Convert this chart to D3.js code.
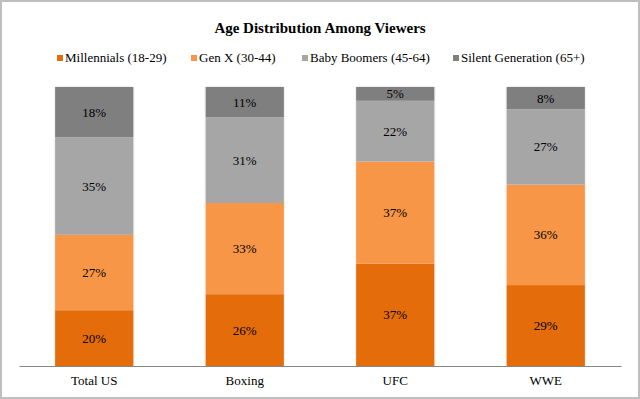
<!DOCTYPE html>
<html>
<head>
<meta charset="utf-8">
<script src="https://cdn.jsdelivr.net/npm/d3@7"></script>
<style>
  html, body { margin: 0; padding: 0; background: #fff; }
  svg { display: block; font-family: "Liberation Serif", "DejaVu Serif", serif; }
</style>
</head>
<body>
<div id="chart"></div>
<script>
const categories = ["Total US", "Boxing", "UFC", "WWE"];
const seriesNames = ["Millennials (18-29)", "Gen X (30-44)", "Baby Boomers (45-64)", "Silent Generation (65+)"];
const millennials = [20, 26, 37, 29];
const genX = [27, 33, 37, 36];
const boomers = [35, 31, 22, 27];
const silent = [18, 11, 5, 8];
const colors = ["#e46c0a", "#f79646", "#a6a6a6", "#7f7f7f"];

const width = 640, height = 399;
const margin = { top: 87, right: 19, bottom: 33, left: 19 };

const rows = categories.map((c, i) => ({
  cat: c,
  s0: millennials[i], s1: genX[i], s2: boomers[i], s3: silent[i]
}));
const keys = ["s0", "s1", "s2", "s3"];
const stacked = d3.stack().keys(keys).offset(d3.stackOffsetExpand)(rows);

const svg = d3.select("#chart").append("svg")
  .attr("width", width).attr("height", height);

// faint shadow round the bars
const defs = svg.append("defs");
defs.append("filter").attr("id", "shadow")
  .attr("x", "-10%").attr("y", "-5%").attr("width", "120%").attr("height", "110%")
  .append("feDropShadow")
  .attr("dx", 0).attr("dy", 0).attr("stdDeviation", 1)
  .attr("flood-color", "#000").attr("flood-opacity", 0.18);

svg.append("rect")
  .attr("x", 1).attr("y", 1)
  .attr("width", width - 2).attr("height", height - 2)
  .attr("fill", "#fff").attr("stroke", "#bfbfbf").attr("stroke-width", 2);

const x = d3.scaleBand().domain(categories)
  .range([margin.left, width - margin.right]).paddingInner(0.48).paddingOuter(0.24);
const y = d3.scaleLinear().domain([0, 1])
  .range([height - margin.bottom, margin.top]);

svg.append("text")
  .attr("x", width / 2).attr("y", 33)
  .attr("text-anchor", "middle")
  .attr("font-size", 15).attr("font-weight", "bold")
  .text("Age Distribution Among Viewers");

// legend
const legendX = [57, 191, 302, 453];
const legend = svg.append("g");
seriesNames.forEach((name, i) => {
  const g = legend.append("g").attr("transform", `translate(${legendX[i]},62)`);
  g.append("rect").attr("x", 0).attr("y", -7).attr("width", 6).attr("height", 6).attr("fill", colors[i]);
  g.append("text").attr("x", 8).attr("y", 0).attr("font-size", 13).attr("fill", "#000").text(name);
});

// shadow drawn under full bar columns
svg.append("g").selectAll("rect")
  .data(rows).join("rect")
  .attr("x", d => x(d.cat))
  .attr("y", y(1))
  .attr("width", x.bandwidth())
  .attr("height", y(0) - y(1))
  .attr("fill", "#fff")
  .attr("filter", "url(#shadow)");

const layers = svg.append("g").selectAll("g")
  .data(stacked).join("g")
  .attr("fill", (d, i) => colors[i]);

layers.selectAll("rect")
  .data(d => d)
  .join("rect")
  .attr("x", d => x(d.data.cat))
  .attr("y", d => y(d[1]))
  .attr("width", x.bandwidth())
  .attr("height", d => y(d[0]) - y(d[1]));

layers.each(function (layer) {
  d3.select(this).selectAll("text")
    .data(layer)
    .join("text")
    .attr("x", d => x(d.data.cat) + x.bandwidth() / 2)
    .attr("y", d => (y(d[0]) + y(d[1])) / 2 + 4.5)
    .attr("text-anchor", "middle")
    .attr("font-size", 13)
    .attr("fill", "#000")
    .text(d => d.data[layer.key] + "%");
});

const xAxis = d3.axisBottom(x).tickSize(0).tickPadding(10);
const ax = svg.append("g")
  .attr("transform", `translate(0,${height - margin.bottom})`)
  .call(xAxis);
ax.select(".domain").attr("stroke", "#868686");
ax.selectAll("text").attr("font-size", 13).attr("font-family", "Liberation Serif, serif").attr("fill", "#000");
</script>
</body>
</html>
